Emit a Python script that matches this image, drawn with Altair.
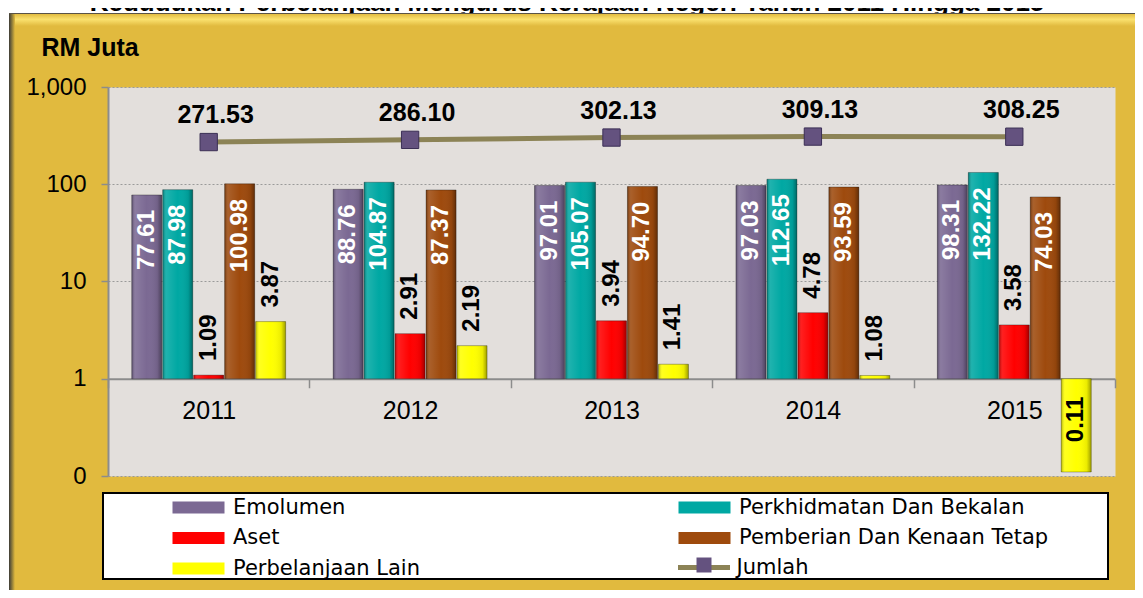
import altair as alt
import pandas as pd

title_text = "Kedudukan Perbelanjaan Mengurus Kerajaan Negeri Tahun 2011 Hingga 2015"
years = ["2011", "2012", "2013", "2014", "2015"]
series = ["Emolumen", "Perkhidmatan Dan Bekalan", "Aset",
          "Pemberian Dan Kenaan Tetap", "Perbelanjaan Lain"]
emolumen = [77.61, 88.76, 97.01, 97.03, 98.31]
perkhidmatan = [87.98, 104.87, 105.07, 112.65, 132.22]
aset = [1.09, 2.91, 3.94, 4.78, 3.58]
pemberian = [100.98, 87.37, 94.70, 93.59, 74.03]
lain = [3.87, 2.19, 1.41, 1.08, 0.11]
jumlah = [271.53, 286.10, 302.13, 309.13, 308.25]
y_ticks = [0.1, 1, 10, 100, 1000]

bar_colors = ["#7B6993", "#00A8A3", "#FF0000", "#9E4A0D", "#FFFF00"]
col_a = ["Emolumen", "Aset", "Perbelanjaan Lain"]
col_b = ["Perkhidmatan Dan Bekalan", "Pemberian Dan Kenaan Tetap"]
white_label = ["Emolumen", "Perkhidmatan Dan Bekalan", "Pemberian Dan Kenaan Tetap"]
color_of = dict(zip(series, bar_colors))

GOLD = "#E1BA3E"
W, H = 1007, 389

rows = []
for s, vals in zip(series, [emolumen, perkhidmatan, aset, pemberian, lain]):
    for yr, v in zip(years, vals):
        if s in white_label:
            pos = "in_w"
        elif v < 1:
            pos = "in_b"
        else:
            pos = "out"
        rows.append({"year": yr, "series": s, "value": v,
                     "anchor": max(v, 1.0), "pos": pos, "label": f"{v:.2f}"})
bars = pd.DataFrame(rows)
tot = pd.DataFrame({"year": years, "value": jumlah, "s": ["Jumlah"] * 5,
                    "label": [f"{v:.2f}" for v in jumlah]})

X = alt.X("year:N", sort=years,
          scale=alt.Scale(domain=years, paddingInner=0, paddingOuter=0),
          axis=alt.Axis(title=None, labelAngle=0, orient="bottom", offset=-97.25,
                        domainColor="#8C8C8C", domainWidth=2, tickColor="#8C8C8C",
                        tickWidth=1.5, tickSize=9, tickBand="extent",
                        labelFont="Liberation Sans", labelFontSize=25,
                        labelColor="#000000", labelPadding=11, grid=False))
XOFF = alt.XOffset("series:N", scale=alt.Scale(domain=series, paddingInner=0.03,
                                               paddingOuter=0.767))
YSCALE = alt.Scale(type="log", domain=[0.1, 1000])
YAXIS = alt.Axis(values=y_ticks,
                 labelExpr="datum.value < 1 ? '0' : format(datum.value, ',')",
                 title="RM Juta", titleAngle=0, titleX=-67, titleY=-32,
                 titleAlign="left", titleBaseline="alphabetic",
                 titleFont="Liberation Sans", titleFontSize=25, titleFontWeight="bold",
                 titleColor="#000000", labelFont="Liberation Sans", labelFontSize=24,
                 labelColor="#000000", labelPadding=15, tickSize=7, tickColor="#8C8C8C",
                 tickWidth=1.5, domainColor="#8C8C8C", domainWidth=2, grid=True,
                 gridColor="#9A9A9A", gridDash=[2, 2], gridWidth=1)
Y = alt.Y("value:Q", scale=YSCALE, axis=YAXIS)
YA = alt.Y("anchor:Q", scale=YSCALE, axis=YAXIS)

RECT_PATH = "M-2.6,-0.6H2.6V0.6H-2.6Z"


def bar_legend(lx, ly):
    return alt.Legend(title=None, orient="none", legendX=lx, legendY=ly,
                      direction="vertical", padding=0, symbolType=RECT_PATH,
                      symbolSize=400, symbolOffset=16, symbolStrokeWidth=0,
                      labelOffset=24, labelFont="DejaVu Sans", labelFontSize=21,
                      labelColor="#000000", rowPadding=8.5, labelLimit=0)


deco = alt.Data(values=[{"k": 1}])

# decorative frame pieces
top_white = alt.Chart(deco).mark_rect(fill="white").encode(
    x=alt.value(-110), x2=alt.value(1040), y=alt.value(-90), y2=alt.value(-74))
title = alt.Chart(alt.Data(values=[{"t": title_text}])).mark_text(
    align="center", baseline="alphabetic", font="Liberation Sans", fontSize=26,
    fontWeight="bold", color="#000000").encode(
    x=alt.value(459), y=alt.value(-76), text="t:N")
top_line = alt.Chart(deco).mark_rect(fill="#5A5346").encode(
    x=alt.value(-99), x2=alt.value(1040), y=alt.value(-74), y2=alt.value(-73))
top_glow = alt.Chart(deco).mark_rect(
    fill=alt.LinearGradient(gradient="linear", x1=0, x2=0, y1=0, y2=1,
                            stops=[alt.GradientStop(color="#E3BC40", offset=0),
                                   alt.GradientStop(color="#FAE16E", offset=0.45),
                                   alt.GradientStop(color=GOLD, offset=1)])).encode(
    x=alt.value(-96), x2=alt.value(1040), y=alt.value(-73), y2=alt.value(-61))
left_white = alt.Chart(deco).mark_rect(fill="white").encode(
    x=alt.value(-101), x2=alt.value(-99), y=alt.value(-90), y2=alt.value(600))
left_shadow = alt.Chart(deco).mark_rect(
    fill=alt.LinearGradient(gradient="linear", x1=0, x2=1, y1=0, y2=0,
                            stops=[alt.GradientStop(color="#3C3A36", offset=0),
                                   alt.GradientStop(color="#8C7A3A", offset=0.5),
                                   alt.GradientStop(color=GOLD, offset=1)])).encode(
    x=alt.value(-99), x2=alt.value(-93), y=alt.value(-73), y2=alt.value(600))
legend_box = alt.Chart(deco).mark_rect(fill="white", stroke="#000000", strokeWidth=2).encode(
    x=alt.value(-5), x2=alt.value(1000), y=alt.value(406), y2=alt.value(492))

bar_a = alt.Chart(bars).transform_filter(
    alt.FieldOneOfPredicate(field="series", oneOf=col_a)).mark_bar(
    stroke="#000000", strokeOpacity=0.3, strokeWidth=1).encode(
    x=X, xOffset=XOFF, y=Y, y2=alt.datum(1),
    color=alt.Color("series:N", scale=alt.Scale(domain=col_a,
                                                range=[color_of[s] for s in col_a]),
                    legend=bar_legend(64, 410)))
bar_b = alt.Chart(bars).transform_filter(
    alt.FieldOneOfPredicate(field="series", oneOf=col_b)).mark_bar(
    stroke="#000000", strokeOpacity=0.3, strokeWidth=1).encode(
    x=X, xOffset=XOFF, y=Y, y2=alt.datum(1),
    color=alt.Color("series:N", scale=alt.Scale(domain=col_b,
                                                range=[color_of[s] for s in col_b]),
                    legend=bar_legend(570, 410)))
# bevel-like shading drawn over the bars
bar_shade = alt.Chart(bars).mark_bar(
    fill=alt.LinearGradient(gradient="linear", x1=0, x2=1, y1=0, y2=0,
                            stops=[alt.GradientStop(color="rgba(0,0,0,0.30)", offset=0),
                                   alt.GradientStop(color="rgba(255,255,255,0.12)", offset=0.12),
                                   alt.GradientStop(color="rgba(255,255,255,0)", offset=0.5),
                                   alt.GradientStop(color="rgba(0,0,0,0.08)", offset=0.85),
                                   alt.GradientStop(color="rgba(0,0,0,0.38)", offset=1)]),
    strokeWidth=0).encode(x=X, xOffset=XOFF, y=Y, y2=alt.datum(1))

lab_kw = dict(angle=270, baseline="middle", font="Liberation Sans", fontSize=24,
              fontWeight="bold")
lab_in_w = alt.Chart(bars).transform_filter(alt.datum.pos == "in_w").mark_text(
    align="right", dx=-15, color="white", **lab_kw).encode(
    x=X, xOffset=XOFF, y=YA, text="label:N")
lab_in_b = alt.Chart(bars).transform_filter(alt.datum.pos == "in_b").mark_text(
    align="right", dx=-18, color="#000000", **lab_kw).encode(
    x=X, xOffset=XOFF, y=YA, text="label:N")
lab_out = alt.Chart(bars).transform_filter(alt.datum.pos == "out").mark_text(
    align="left", dx=14, color="#000000", **lab_kw).encode(
    x=X, xOffset=XOFF, y=YA, text="label:N")

line = alt.Chart(tot).mark_line(strokeWidth=5).encode(
    x=X, y=Y,
    color=alt.Color("s:N", scale=alt.Scale(domain=["Jumlah"], range=["#8C8356"]),
                    legend=alt.Legend(title=None, orient="none", legendX=570, legendY=468,
                                      padding=0, symbolType="M-2.6,0H2.6", symbolSize=400,
                                      symbolStrokeWidth=5, symbolOffset=13.5,
                                      labelOffset=20, labelFont="DejaVu Sans",
                                      labelFontSize=21, labelColor="#000000",
                                      labelLimit=0)))
pts = alt.Chart(tot).mark_square(size=300, stroke="#3B2F55", strokeWidth=1, opacity=1).encode(
    x=X, y=Y,
    color=alt.Color("s:N", scale=alt.Scale(domain=["Jumlah"], range=["#64527F"]),
                    legend=alt.Legend(title=None, orient="none", legendX=570, legendY=468,
                                      padding=0, symbolType="M-0.75,-0.75H0.75V0.75H-0.75Z",
                                      symbolSize=400, symbolStrokeWidth=0, symbolOffset=16,
                                      labelExpr="''", labelOffset=24)))
tot_lab = alt.Chart(tot).mark_text(dx=7, dy=-19, baseline="alphabetic", align="center",
                                   font="Liberation Sans", fontSize=25, fontWeight="bold",
                                   color="#000000").encode(x=X, y=Y, text="label:N")

chart = alt.layer(
    top_white, title, top_line, top_glow, left_white, left_shadow, legend_box,
    bar_a, bar_b, bar_shade, lab_in_w, lab_in_b, lab_out, line, pts, tot_lab
).resolve_scale(color="independent").properties(
    width=W, height=H,
    padding={"left": 100, "top": 79, "right": 20, "bottom": 114},
    autosize=alt.AutoSizeParams(type="none"),
    background=GOLD,
).configure_view(fill="#E3DFDC", stroke="transparent")

chart.save("out.html", embed_options={"renderer": "svg", "actions": False})
